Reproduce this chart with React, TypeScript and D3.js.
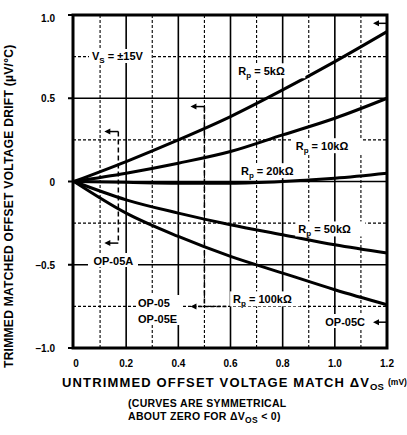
import React from 'react';
import * as d3 from 'd3';

// x: untrimmed offset voltage match (mV), y: trimmed matched drift (µV/°C)
const vosMatch = [0, 0.2, 0.4, 0.6, 0.8, 1.0, 1.2];
const drift5k = [0, 0.12, 0.25, 0.39, 0.55, 0.72, 0.9];
const drift10k = [0, 0.05, 0.11, 0.18, 0.28, 0.38, 0.5];
const drift20k = [0, -0.005, -0.01, -0.01, 0.0, 0.02, 0.05];
const drift50k = [0, -0.11, -0.19, -0.26, -0.32, -0.38, -0.43];
const drift100k = [0, -0.19, -0.33, -0.45, -0.55, -0.65, -0.74];

const xTicks = [0, 0.2, 0.4, 0.6, 0.8, 1.0, 1.2];
const xTickLabels = ['0', '0.2', '0.4', '0.6', '0.8', '1.0', '1.2'];
const yTicks = [1, 0.5, 0, -0.5, -1];
const yTickLabels = ['1.0', '0.5', '0', '\u20130.5', '\u20131.0'];

const xMinor = [0.1, 0.3, 0.5, 0.7, 0.9, 1.1];
const xMajor = [0.2, 0.4, 0.6, 0.8, 1.0];
const yMinor = [0.75, 0.25, -0.25, -0.75];
const yMajor = [0.5, 0, -0.5];

// curve labels: resistor value, label anchor (x in mV, y in µV/°C)
const rpValues = ['5k\u03a9', '10k\u03a9', '20k\u03a9', '50k\u03a9', '100k\u03a9'];
const rpLabelX = [0.63, 0.85, 0.64, 0.86, 0.61];
const rpLabelY = [0.65, 0.2, 0.05, -0.3, -0.72];

// device grade boundaries (x), with arrow ends (y)
const gradeNames = ['OP-05A', 'OP-05', 'OP-05C'];
const gradeX = [0.17, 0.5, 1.2];
const gradeTop = [0.3, 0.45, 0.95];
const gradeBottom = [-0.37, -0.75, -0.845];

const FONT = '"Liberation Sans", Arial, sans-serif';

const App = () => {
  const width = 407;
  const height = 435;
  const left = 73;
  const right = 387;
  const top = 15;
  const bottom = 348;

  const x = d3.scaleLinear().domain([0, 1.2]).range([left + 1, right]);
  const y = d3.scaleLinear().domain([-1, 1]).range([bottom, top]);

  const line = d3
    .line<number>()
    .x((_, i) => x(vosMatch[i]))
    .y((d) => y(d))
    .curve(d3.curveMonotoneX);

  const series = [drift5k, drift10k, drift20k, drift50k, drift100k];

  // small left-pointing arrowhead with tip at (tx, ty)
  const head = (tx: number, ty: number) =>
    `M${tx},${ty} L${tx + 6},${ty - 3} L${tx + 6},${ty + 3} Z`;

  const txt = {
    fontFamily: FONT,
    fontWeight: 700,
    fill: '#000',
  } as const;

  return (
    <svg
      width={width}
      height={height}
      style={{ position: 'absolute', left: 0, top: 0, background: '#fff' }}
    >
      {/* grid */}
      {xMinor.map((v) => (
        <line key={'xm' + v} x1={x(v)} x2={x(v)} y1={top} y2={bottom}
          stroke="#000" strokeWidth={1.1} strokeDasharray="3,2" />
      ))}
      {xMajor.map((v) => (
        <line key={'xM' + v} x1={x(v)} x2={x(v)} y1={top} y2={bottom}
          stroke="#000" strokeWidth={1.6} />
      ))}
      {yMinor.map((v) => (
        <line key={'ym' + v} x1={left} x2={right} y1={y(v)} y2={y(v)}
          stroke="#000" strokeWidth={1.1} strokeDasharray="3,2" />
      ))}
      {yMajor.map((v) => (
        <line key={'yM' + v} x1={left} x2={right} y1={y(v)} y2={y(v)}
          stroke="#000" strokeWidth={1.6} />
      ))}

      {/* grade boundaries */}
      {gradeX.map((gx, i) => {
        const px = x(gx);
        const t = y(gradeTop[i]);
        const b = y(gradeBottom[i]);
        const tip = px - 14;
        return (
          <g key={gradeNames[i]}>
            {i < 2 && (
              <line x1={px} x2={px} y1={t} y2={b} stroke="#000"
                strokeWidth={1.5} strokeDasharray="5,3" />
            )}
            <line x1={px} x2={tip + 4} y1={t} y2={t} stroke="#000" strokeWidth={1.5} />
            <path d={head(tip, t)} fill="#000" />
            <line x1={i === 1 ? px + 22 : px} x2={tip + 4} y1={b} y2={b}
              stroke="#000" strokeWidth={1.5} strokeDasharray={i === 1 ? '4,2' : undefined} />
            <path d={head(tip, b)} fill="#000" />
          </g>
        );
      })}

      {/* curves */}
      {series.map((s, i) => (
        <path key={'c' + i} d={line(s) || ''} fill="none" stroke="#000"
          strokeWidth={3} strokeLinejoin="round" />
      ))}

      {/* frame */}
      <rect x={left} y={top} width={right - left} height={bottom - top}
        fill="none" stroke="#000" strokeWidth={3} />

      {/* y ticks */}
      {yTicks.map((v, i) => (
        <g key={'yt' + v}>
          <line x1={left - 5} x2={left} y1={y(v)} y2={y(v)} stroke="#000" strokeWidth={2} />
          <text x={55} y={y(v) + 4 + (v === 1 ? 3 : 0)} textAnchor="end" fontSize={10} {...txt}>
            {yTickLabels[i]}
          </text>
        </g>
      ))}

      {/* x ticks */}
      {xTicks.map((v, i) => (
        <text key={'xt' + v} x={x(v) + (i === 0 ? 2 : 0)} y={367} textAnchor="middle"
          fontSize={10} {...txt}>
          {xTickLabels[i]}
        </text>
      ))}

      {/* supply label */}
      <rect x={89} y={49} width={62} height={14} fill="#fff" />
      <text x={92} y={60} fontSize={11} {...txt}>
        V<tspan fontSize={8} dy={3}>S</tspan>
        <tspan dy={-3}>{' = \u00b115V'}</tspan>
      </text>

      {/* Rp labels */}
      {rpValues.map((r, i) => {
        const lx = x(rpLabelX[i]);
        const ly = y(rpLabelY[i]);
        return (
          <g key={'rp' + r}>
            <rect x={lx - 3} y={ly - 10} width={r.length > 5 ? 78 : 70} height={15} fill="#fff" />
            <text x={lx} y={ly + 2} fontSize={11} {...txt}>
              R<tspan fontSize={8} dy={3}>p</tspan>
              <tspan dy={-3}>{'  =  ' + r}</tspan>
            </text>
          </g>
        );
      })}

      {/* grade labels */}
      <rect x={88} y={253} width={50} height={14} fill="#fff" />
      <text x={x(0.17) - 5} y={265} textAnchor="middle" fontSize={11} {...txt}>
        {gradeNames[0]}
      </text>
      <rect x={136} y={295} width={46} height={30} fill="#fff" />
      <text x={138} y={307} fontSize={11} {...txt}>{gradeNames[1]}</text>
      <text x={138} y={323} fontSize={11} {...txt}>{gradeNames[1] + 'E'}</text>
      <rect x={319} y={314} width={48} height={14} fill="#fff" />
      <text x={365} y={326} textAnchor="end" fontSize={11} {...txt}>{gradeNames[2]}</text>

      {/* axis titles */}
      <text transform="translate(13,368) rotate(-90)" fontSize={12} letterSpacing={0.3} {...txt}>
        TRIMMED MATCHED OFFSET VOLTAGE DRIFT (µV/°C)
      </text>
      <text x={62} y={387} fontSize={13} textLength={307} lengthAdjust="spacing" {...txt}>
        UNTRIMMED OFFSET VOLTAGE MATCH ΔV
      </text>
      <text x={370} y={390} fontSize={9.5} {...txt}>OS</text>
      <text x={388} y={385} fontSize={8.5} {...txt}>(mV)</text>
      <text x={128} y={407} fontSize={10.5} letterSpacing={0.3} {...txt}>(CURVES ARE SYMMETRICAL</text>
      <text x={128} y={420} fontSize={10.5} letterSpacing={0.3} {...txt}>
        ABOUT ZERO FOR ΔV<tspan fontSize={8.5} dy={3}>OS</tspan>
        <tspan dy={-3}> &lt; 0)</tspan>
      </text>
    </svg>
  );
};

export default App;
